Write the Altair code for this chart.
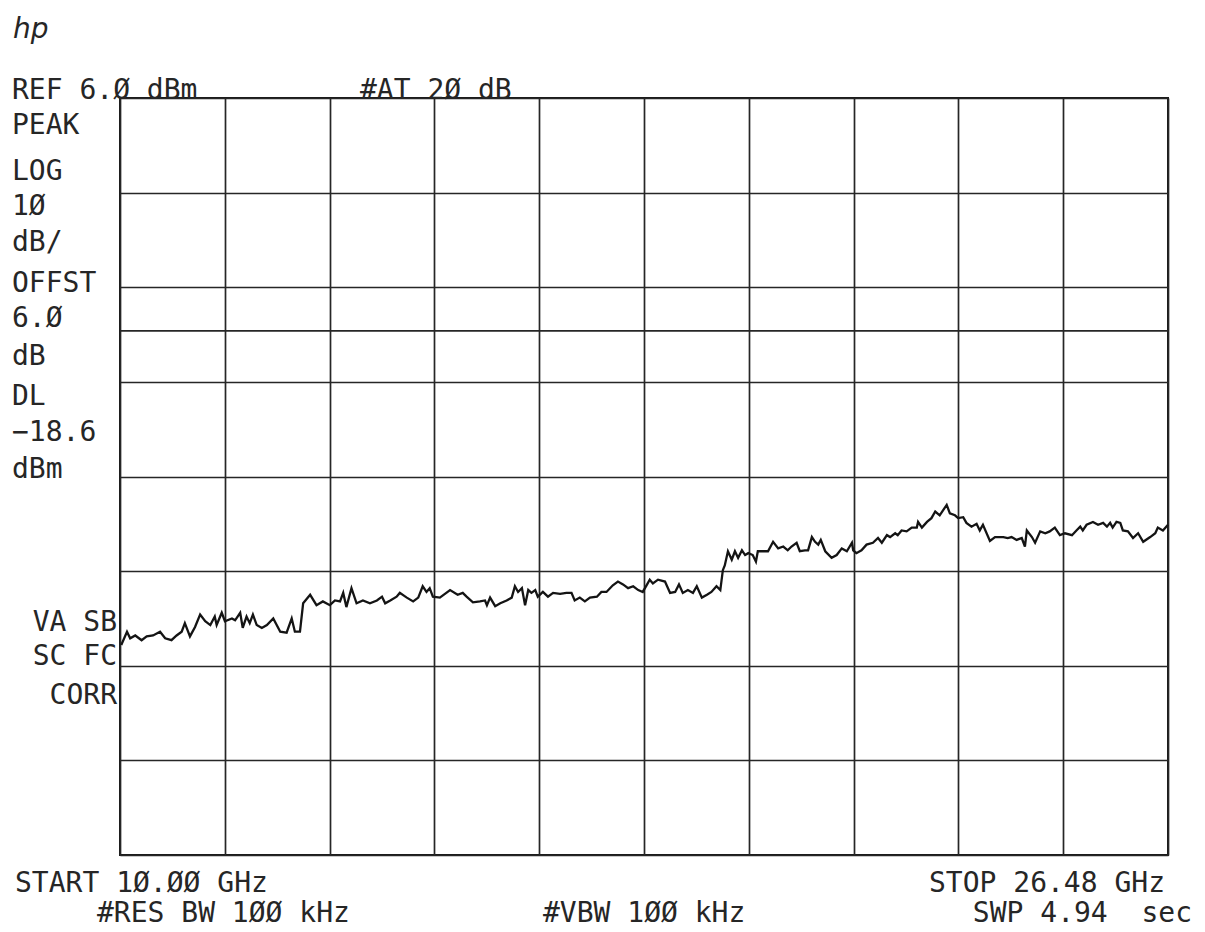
import altair as alt
import pandas as pd

# ---- trace (GHz, dBm) ----
freq_ghz = [
    10.02, 10.11, 10.16, 10.24, 10.34, 10.42, 10.52, 10.63, 10.71, 10.81, 10.89, 10.97,
    11.02, 11.10, 11.18, 11.26, 11.34, 11.42, 11.49, 11.52, 11.60, 11.65, 11.76, 11.81,
    11.89, 11.93, 11.99, 12.04, 12.09, 12.15, 12.23, 12.31, 12.41, 12.52, 12.62, 12.70,
    12.75, 12.83, 12.88, 12.99, 13.09, 13.19, 13.30, 13.38, 13.46, 13.51, 13.56, 13.64,
    13.72, 13.82, 13.93, 14.04, 14.12, 14.17, 14.25, 14.35, 14.40, 14.51, 14.61, 14.69,
    14.76, 14.82, 14.87, 14.92, 15.03, 15.19, 15.31, 15.39, 15.45, 15.55, 15.66, 15.74,
    15.77, 15.82, 15.90, 15.98, 16.08, 16.16, 16.21, 16.26, 16.32, 16.37, 16.42, 16.47,
    16.53, 16.57, 16.65, 16.73, 16.81, 16.92, 17.02, 17.10, 17.15, 17.23, 17.31, 17.39,
    17.50, 17.57, 17.65, 17.75, 17.83, 17.91, 17.99, 18.07, 18.15, 18.22, 18.28, 18.33,
    18.38, 18.46, 18.57, 18.65, 18.73, 18.79, 18.85, 18.93, 19.01, 19.07, 19.15, 19.23,
    19.30, 19.38, 19.44, 19.48, 19.51, 19.56, 19.62, 19.67, 19.72, 19.78, 19.83, 19.88,
    19.95, 20.00, 20.03, 20.11, 20.19, 20.27, 20.35, 20.43, 20.50, 20.56, 20.64, 20.69,
    20.77, 20.82, 20.88, 20.93, 20.98, 21.02, 21.09, 21.19, 21.27, 21.35, 21.43, 21.51,
    21.53, 21.58, 21.66, 21.74, 21.84, 21.92, 21.98, 22.06, 22.11, 22.19, 22.23, 22.29,
    22.37, 22.45, 22.53, 22.55, 22.61, 22.69, 22.76, 22.82, 22.89, 23.00, 23.05, 23.13,
    23.18, 23.26, 23.31, 23.39, 23.47, 23.52, 23.57, 23.68, 23.76, 23.89, 23.96, 24.02,
    24.10, 24.18, 24.23, 24.26, 24.34, 24.39, 24.47, 24.55, 24.62, 24.70, 24.78, 24.86,
    24.97, 25.04, 25.10, 25.14, 25.20, 25.30, 25.38, 25.46, 25.52, 25.57, 25.61, 25.67,
    25.73, 25.77, 25.85, 25.93, 26.01, 26.09, 26.20, 26.28, 26.32, 26.40, 26.48,
]
level_dbm = [
    -51.8, -50.4, -51.1, -50.8, -51.3, -50.9, -50.8, -50.4, -51.1, -51.3, -50.8, -50.4,
    -49.5, -50.9, -49.9, -48.6, -49.3, -49.7, -48.8, -49.7, -48.4, -49.3, -49.0, -49.2,
    -48.4, -50.0, -48.8, -49.5, -48.6, -49.7, -50.0, -49.7, -49.0, -50.4, -50.5, -49.0,
    -50.4, -50.4, -47.4, -46.5, -47.6, -47.2, -47.6, -47.1, -47.2, -46.3, -47.8, -45.8,
    -47.4, -47.1, -47.4, -47.1, -46.7, -47.4, -47.1, -46.7, -46.3, -46.8, -47.2, -46.8,
    -45.6, -46.2, -45.8, -46.7, -46.8, -46.0, -46.5, -46.3, -46.7, -47.3, -47.2, -47.1,
    -47.6, -46.8, -47.7, -47.4, -47.1, -46.8, -45.6, -46.2, -45.8, -47.6, -46.0, -46.3,
    -46.0, -46.7, -46.2, -46.7, -46.3, -46.4, -46.3, -46.3, -47.1, -46.8, -47.2, -46.8,
    -46.7, -46.2, -46.2, -45.5, -45.1, -45.4, -45.8, -45.6, -46.0, -46.2, -45.5, -44.9,
    -45.3, -44.9, -45.1, -46.3, -46.2, -45.4, -46.3, -46.0, -46.3, -45.6, -46.8, -46.5,
    -46.2, -45.6, -46.0, -43.9, -43.4, -41.9, -42.8, -41.9, -42.6, -41.8, -42.3, -42.1,
    -42.3, -43.0, -41.9, -41.9, -41.9, -40.9, -41.6, -41.4, -41.8, -41.4, -41.0, -41.9,
    -41.8, -41.8, -40.4, -40.9, -41.2, -40.7, -41.9, -42.6, -42.3, -41.6, -41.9, -41.0,
    -41.8, -42.1, -41.8, -41.2, -41.0, -40.5, -41.0, -40.2, -40.4, -40.0, -40.2, -39.7,
    -39.8, -39.4, -39.4, -38.8, -39.4, -38.8, -38.4, -37.7, -38.1, -37.0, -37.9, -38.1,
    -38.4, -38.3, -38.9, -39.3, -39.0, -39.7, -39.1, -40.8, -40.4, -40.4, -40.5, -40.4,
    -40.7, -40.5, -41.4, -39.7, -40.4, -41.0, -39.8, -40.0, -39.8, -39.4, -40.2, -40.0,
    -40.2, -39.7, -39.3, -39.7, -39.1, -38.8, -39.1, -38.9, -39.3, -38.9, -39.4, -38.8,
    -38.9, -39.7, -39.8, -40.5, -40.0, -40.9, -40.4, -40.0, -39.4, -39.7, -39.1,
]

# ---- graticule ----
freq_start, freq_stop = 10.0, 26.48
freq_grid = [10.0, 11.648, 13.296, 14.944, 16.592, 18.24, 19.888, 21.536, 23.184, 24.832, 26.48]
ref_level, bottom_level = 6.0, -74.0
level_grid = [6, -4, -14, -24, -34, -44, -54, -64, -74]
display_line = [-18.6]

# ---- annotation text ----
left_labels = ["REF 6.Ø dBm", "#AT 2Ø dB", "PEAK", "LOG", "1Ø", "dB/", "OFFST", "6.Ø", "dB",
               "DL", "−18.6", "dBm", "START 1Ø.ØØ GHz", "#RES BW 1ØØ kHz", "#VBW 1ØØ kHz"]
left_px = [-108, 240, -108, -108, -108, -108, -108, -108, -108, -108, -108, -108, -105, -23, 423]
left_py = [1, 1, 36, 82, 117, 153, 194, 229, 267, 307, 343, 380, 794, 824, 824]

right_labels = ["VA SB", "SC FC", "CORR", "STOP 26.48 GHz", "SWP 4.94\u00a0\u00a0sec"]
right_px = [-3, -3, -3, 1045, 1072]
right_py = [533, 567, 606, 794, 824]

INK = "#262626"
FONT = "DejaVu Sans Mono"
FS = 28

trace_df = pd.DataFrame({"freq": freq_ghz, "level": level_dbm})

x_scale = alt.Scale(domain=[freq_start, freq_stop], nice=False, zero=False)
y_scale = alt.Scale(domain=[bottom_level, ref_level], nice=False, zero=False)

trace = alt.Chart(trace_df).mark_line(color="#141414", strokeWidth=2.3).encode(
    x=alt.X("freq:Q", scale=x_scale,
            axis=alt.Axis(values=freq_grid, grid=True, labels=False, ticks=False,
                          domain=False, title=None, gridColor=INK, gridWidth=1.7,
                          gridOpacity=1)),
    y=alt.Y("level:Q", scale=y_scale,
            axis=alt.Axis(values=level_grid, grid=True, labels=False, ticks=False,
                          domain=False, title=None, gridColor=INK, gridWidth=1.7,
                          gridOpacity=1)),
)

dl = alt.Chart(pd.DataFrame({"dl": display_line})).mark_rule(
    color=INK, strokeWidth=1.7).encode(y=alt.Y("dl:Q", scale=y_scale))

plot = alt.layer(trace, dl)

left_df = pd.DataFrame({"label": left_labels, "px": left_px, "py": left_py})
right_df = pd.DataFrame({"label": right_labels, "px": right_px, "py": right_py})

left_text = alt.Chart(left_df).mark_text(
    align="left", baseline="alphabetic", font=FONT, fontSize=FS, color=INK).encode(
    x=alt.X("px:Q", scale=None, axis=None),
    y=alt.Y("py:Q", scale=None, axis=None),
    text="label:N",
)
right_text = alt.Chart(right_df).mark_text(
    align="right", baseline="alphabetic", font=FONT, fontSize=FS, color=INK).encode(
    x=alt.X("px:Q", scale=None, axis=None),
    y=alt.Y("py:Q", scale=None, axis=None),
    text="label:N",
)
logo = alt.Chart(pd.DataFrame({"label": ["hp"]})).mark_text(
    align="left", baseline="alphabetic", font="DejaVu Sans", fontSize=28,
    fontStyle="italic", color=INK).encode(
    x=alt.value(-107), y=alt.value(-60), text="label:N")

chart = alt.layer(plot, left_text, right_text, logo).resolve_scale(
    x="independent", y="independent"
).properties(
    width=1048, height=757,
    padding={"left": 112, "top": 90, "right": 26, "bottom": 74},
    autosize=alt.AutoSizeParams(type="none"),
    background="white",
).configure_view(stroke="#1a1a1a", strokeWidth=2)

chart.save("out.html", embed_options={"renderer": "svg", "actions": False})
